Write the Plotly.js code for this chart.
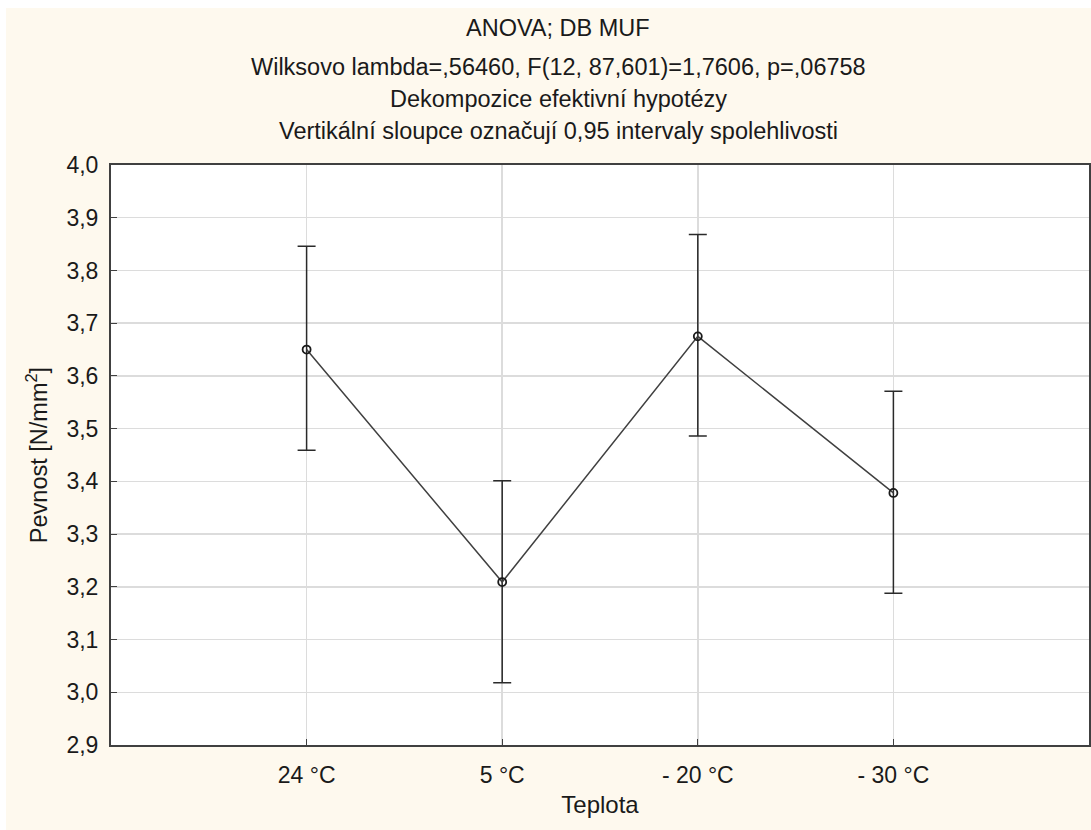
<!DOCTYPE html>
<html>
<head>
<meta charset="utf-8">
<script src="https://cdn.plot.ly/plotly-3.0.1.min.js"></script>
<style>
html,body{margin:0;padding:0;background:#ffffff;}
#chart{position:absolute;left:6px;top:8px;width:1085px;height:822px;}
</style>
</head>
<body>
<div id="chart"></div>
<script>
const categories = ["24 °C", "5 °C", "- 20 °C", "- 30 °C"];
const means = [3.650, 3.209, 3.675, 3.378];
const upper = [3.846, 3.401, 3.868, 3.571];
const lower = [3.459, 3.018, 3.486, 3.188];
const yTicks = [2.9, 3.0, 3.1, 3.2, 3.3, 3.4, 3.5, 3.6, 3.7, 3.8, 3.9, 4.0];
const titleLines = [
  "ANOVA; DB MUF",
  "Wilksovo lambda=,56460, F(12, 87,601)=1,7606, p=,06758",
  "Dekompozice efektivní hypotézy",
  "Vertikální sloupce označují 0,95 intervaly spolehlivosti"
];

const errPlus = means.map((m, i) => upper[i] - m);
const errMinus = means.map((m, i) => m - lower[i]);
const xIdx = categories.map((c, i) => i);

const fam = "Liberation Sans, Arial, sans-serif";
const col = "#1a1a1a";
const f = s => ({family: fam, color: col, size: s});

const trace = {
  type: "scatter",
  mode: "lines+markers",
  x: xIdx,
  y: means,
  line: {color: "#404040", width: 1.5},
  marker: {symbol: "circle-open", size: 8, color: col, line: {width: 1.8, color: col}},
  error_y: {type: "data", symmetric: false, array: errPlus, arrayminus: errMinus,
            color: "#2a2a2a", thickness: 1.5, width: 9},
  hoverinfo: "skip"
};

// title lines placed as annotations (page y centres ~28, 67, 99, 131)
const plotTop = 165 - 8, plotBottom = 745 - 8, plotH = plotBottom - plotTop;
const lineY = [28, 67, 99, 131].map(y => (plotBottom - (y - 8)) / plotH);
const annotations = titleLines.map((t, i) => ({
  text: t, xref: "paper", yref: "paper",
  x: (558 - 111) / 978, y: lineY[i],
  xanchor: "center", yanchor: "middle",
  showarrow: false, font: f(23.5)
}));

const layout = {
  width: 1085, height: 822,
  paper_bgcolor: "#fef9ee",
  plot_bgcolor: "#ffffff",
  separators: ", ",
  margin: {l: 105, r: 2, t: 157, b: 85},
  showlegend: false,
  font: f(20),
  annotations: annotations,
  xaxis: {
    range: [-1, 4],
    tickmode: "array",
    tickvals: xIdx,
    ticktext: categories,
    showgrid: true, gridcolor: "#dcdcdc", gridwidth: 1.5,
    zeroline: false,
    showline: true, linecolor: "#404040", linewidth: 2, mirror: true,
    ticks: "inside", ticklen: 6, tickcolor: "#404040", tickwidth: 1,
    ticklabelstandoff: 8,
    tickfont: f(23),
    title: {text: "Teplota", font: f(24), standoff: 10}
  },
  yaxis: {
    range: [2.9, 4.0],
    tickmode: "array",
    tickvals: yTicks,
    ticktext: yTicks.map(v => v.toFixed(1).replace(".", ",")),
    showgrid: true, gridcolor: "#dcdcdc", gridwidth: 1.5,
    zeroline: false,
    showline: true, linecolor: "#404040", linewidth: 2, mirror: true,
    ticks: "inside", ticklen: 6, tickcolor: "#404040", tickwidth: 1,
    ticklabelstandoff: 6,
    tickfont: f(23),
    title: {text: "Pevnost [N/mm<sup>2</sup>]", font: f(23.5), standoff: 12}
  }
};

Plotly.newPlot("chart", [trace], layout, {displayModeBar: false, staticPlot: true});
</script>
</body>
</html>
